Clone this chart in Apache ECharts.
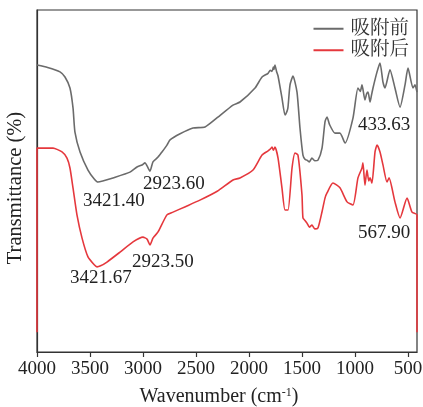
<!DOCTYPE html>
<html>
<head>
<meta charset="utf-8">
<script src="https://cdn.jsdelivr.net/npm/echarts@6/dist/echarts.min.js"></script>
<style>
html,body{margin:0;padding:0;background:#fff;}
#chart{width:423px;height:407px;}
</style>
</head>
<body>
<div id="chart"></div>
<script>
// Wavenumber ticks (cm-1)
const xTicks = [4000, 3500, 3000, 2500, 2000, 1500, 1000, 500];
const seriesNames = ['吸附前', '吸附后'];

// 吸附前 (before adsorption): wavenumber, transmittance (arbitrary %)
const beforeWn = [4000,3900,3783,3736,3689,3660,3642,3594,3519,3460,3425,3380,3283,3123,3057,3009,2981,2962,2934,2906,2858,2821,2774,2745,2650,2528,2415,2300,2151,2085,1943,1877,1820,1800,1783,1770,1765,1755,1740,1726,1689,1660,1640,1632,1613,1585,1547,1519,1491,1470,1453,1430,1406,1380,1349,1311,1283,1264,1240,1189,1142,1094,1019,972,950,934,906,890,877,858,845,830,792,764,736,717,670,623,575,528,500,453,434,415];
const beforeT  = [83.9,83.2,81.9,80.4,77.2,71.3,64.3,58.5,53.2,50.6,49.7,50.0,50.9,52.6,54.1,54.7,55.3,54.4,52.9,55.6,57.0,58.5,60.5,62.0,63.8,65.5,65.8,68.5,72.2,73.1,77.2,80.4,81.5,82.4,82.0,83.3,82.6,83.9,82.0,80.7,74.3,69.3,70.5,71.6,78.1,80.7,76.0,65.5,57.6,56.3,56.1,55.6,56.7,55.9,56.1,59.6,67.3,68.7,66.5,64.0,64.0,61.1,68.4,77.2,76.2,78.1,73.7,75.5,76.0,73.1,75.0,77.2,81.9,84.5,78.9,77.2,82.5,77.2,71.6,78.1,83.0,77.2,78.1,76.0];

// 吸附后 (after adsorption)
const afterWn = [4000,4000,3900,3849,3764,3717,3689,3660,3623,3575,3519,3460,3434,3400,3340,3217,3094,3000,2962,2934,2906,2858,2774,2717,2600,2463,2300,2151,2085,1962,1877,1820,1800,1783,1770,1755,1726,1689,1660,1632,1594,1566,1538,1500,1491,1470,1453,1430,1406,1380,1349,1311,1283,1264,1208,1142,1075,1019,972,934,925,906,887,870,858,840,811,792,764,736,698,679,623,575,509,462,415,415];
const afterT  = [5.8,59.6,59.6,59.6,58.5,56.7,53.8,47.9,40.1,33.3,27.8,25.5,24.9,25.2,26.3,29.2,32.2,33.6,33.0,31.3,33.3,35.1,40.1,40.9,42.5,44.4,47.0,50.3,50.9,53.2,57.6,58.8,59.3,59.9,59.0,59.9,56.7,48.0,41.5,41.5,53.8,58.2,57.6,45.9,39.2,38.4,37.7,36.5,37.1,36.0,36.3,41.0,45.0,46.5,49.4,48.0,43.9,43.0,50.9,53.8,55.3,48.8,53.2,50.0,50.9,49.4,58.5,60.5,58.5,54.7,49.7,50.9,43.9,39.2,45.0,40.9,40.1,5.8];

// Peak annotations
const peakLabels = ['3421.40', '2923.60', '433.63', '3421.67', '2923.50', '567.90'];

const FONT = '"Liberation Serif","Times New Roman","Noto Serif CJK SC","Noto Sans CJK SC",serif';

const beforeData = beforeWn.map((w, i) => [w, beforeT[i]]);
const afterData = afterWn.map((w, i) => [w, afterT[i]]);

const chart = echarts.init(document.getElementById('chart'));

const labelPos = [[83, 201], [143, 184], [358, 125], [70, 278], [132, 262], [358, 233]];

chart.setOption({
  animation: false,
  backgroundColor: '#fff',
  grid: {left: 37, right: 6, top: 10, bottom: 55, show: true, borderColor: '#333', borderWidth: 1.2,
         backgroundColor: 'transparent', containLabel: false, outerBoundsMode: 'none'},
  legend: {
    orient: 'vertical', right: 9, top: 14,
    itemWidth: 30, itemHeight: 2, itemGap: 2,
    textStyle: {fontFamily: FONT, fontSize: 19.5, color: '#333', padding: [0, 0, 0, 2]},
    data: seriesNames.map(n => ({name: n, icon: 'rect'}))
  },
  xAxis: {
    type: 'value', min: 415, max: 4000, inverse: true,
    axisLine: {show: true, onZero: false, lineStyle: {color: '#333', width: 1.2}},
    axisTick: {show: true, length: 5, inside: false, customValues: xTicks, lineStyle: {color: '#333', width: 1.2}},
    axisLabel: {customValues: xTicks, showMinLabel: true, showMaxLabel: true, hideOverlap: false,
      formatter: v => String(v), fontFamily: FONT, fontSize: 19, color: '#222', margin: 8},
    splitLine: {show: false},
    name: 'Wavenumber (cm{sup|-1})',
    nameLocation: 'middle', nameGap: 35,
    nameTextStyle: {fontFamily: FONT, fontSize: 20, color: '#222', padding: [0, 16, 0, 0],
      rich: {sup: {fontFamily: FONT, fontSize: 12, color: '#222', verticalAlign: 'top', padding: [0, 0, 8, 0]}}}
  },
  yAxis: {
    type: 'value', min: 0, max: 100,
    axisLine: {show: true, lineStyle: {color: '#333', width: 1.2}},
    axisTick: {show: false}, axisLabel: {show: false}, splitLine: {show: false},
    name: 'Transmittance (%)', nameLocation: 'middle', nameGap: 11,
    nameTextStyle: {fontFamily: FONT, fontSize: 20.5, color: '#222', padding: [0, 14, 0, 0]}
  },
  series: [
    {name: seriesNames[0], type: 'line', data: beforeData, symbol: 'none', smooth: 0.2,
     lineStyle: {color: '#6b6b6b', width: 1.6}, itemStyle: {color: '#6b6b6b'}},
    {name: seriesNames[1], type: 'line', data: afterData, symbol: 'none', smooth: 0.2,
     lineStyle: {color: '#e5383d', width: 1.6}, itemStyle: {color: '#e5383d'}}
  ],
  graphic: peakLabels.map((t, i) => ({
    type: 'text', x: labelPos[i][0], y: labelPos[i][1], z: 10,
    style: {text: t, font: '19px ' + FONT, fill: '#222', textAlign: 'left', textVerticalAlign: 'middle'}
  }))
});
</script>
</body>
</html>
